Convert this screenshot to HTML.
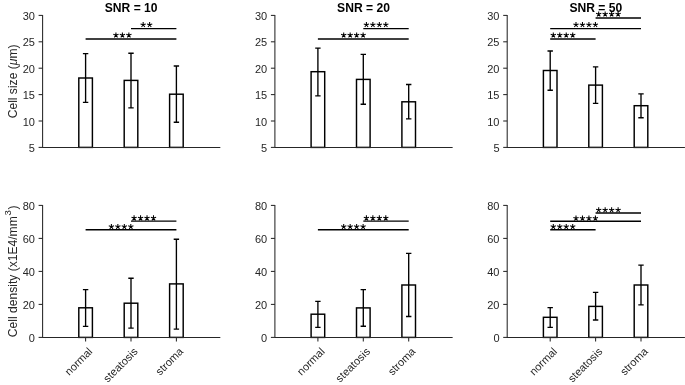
<!DOCTYPE html><html><head><meta charset="utf-8"><style>html,body{margin:0;padding:0;background:#fff}svg{display:block;will-change:transform}text{font-family:"Liberation Sans",sans-serif}</style></head><body>
<svg width="685" height="385" viewBox="0 0 685 385">
<rect width="685" height="385" fill="#fff"/>
<rect x="78.80" y="78.00" width="13.6" height="69.40" fill="#fff" stroke="#000" stroke-width="1.45"/>
<rect x="124.20" y="80.40" width="13.6" height="67.00" fill="#fff" stroke="#000" stroke-width="1.45"/>
<rect x="169.60" y="94.20" width="13.6" height="53.20" fill="#fff" stroke="#000" stroke-width="1.45"/>
<path d="M85.60 53.60V102.40M82.90 53.60h5.4M82.90 102.40h5.4" stroke="#000" stroke-width="1.35" fill="none"/>
<path d="M131.00 53.20V107.80M128.30 53.20h5.4M128.30 107.80h5.4" stroke="#000" stroke-width="1.35" fill="none"/>
<path d="M176.40 66.00V122.20M173.70 66.00h5.4M173.70 122.20h5.4" stroke="#000" stroke-width="1.35" fill="none"/>
<path d="M42.60 15.40V147.40H219.80" stroke="#262626" stroke-width="1.05" fill="none" stroke-linecap="square"/>
<path d="M42.60 15.40h-4" stroke="#262626" stroke-width="1.05"/>
<text x="34.90" y="19.90" font-size="11" fill="#262626" text-anchor="end">30</text>
<path d="M42.60 41.80h-4" stroke="#262626" stroke-width="1.05"/>
<text x="34.90" y="46.30" font-size="11" fill="#262626" text-anchor="end">25</text>
<path d="M42.60 68.20h-4" stroke="#262626" stroke-width="1.05"/>
<text x="34.90" y="72.70" font-size="11" fill="#262626" text-anchor="end">20</text>
<path d="M42.60 94.60h-4" stroke="#262626" stroke-width="1.05"/>
<text x="34.90" y="99.10" font-size="11" fill="#262626" text-anchor="end">15</text>
<path d="M42.60 121.00h-4" stroke="#262626" stroke-width="1.05"/>
<text x="34.90" y="125.50" font-size="11" fill="#262626" text-anchor="end">10</text>
<path d="M42.60 147.40h-4" stroke="#262626" stroke-width="1.05"/>
<text x="34.90" y="151.90" font-size="11" fill="#262626" text-anchor="end">5</text>
<path d="M131.00 28.60H176.40" stroke="#000" stroke-width="1.4"/>
<path d="M143.16 24.80L143.16 22.05M143.16 24.80L145.78 23.95M143.16 24.80L144.78 27.02M143.16 24.80L141.55 27.02M143.16 24.80L140.55 23.95" stroke="#000" stroke-width="1.05" fill="none"/>
<path d="M149.63 24.80L149.63 22.05M149.63 24.80L152.25 23.95M149.63 24.80L151.25 27.02M149.63 24.80L148.02 27.02M149.63 24.80L147.02 23.95" stroke="#000" stroke-width="1.05" fill="none"/>
<path d="M85.60 39.00H176.40" stroke="#000" stroke-width="1.4"/>
<path d="M115.93 35.20L115.93 32.45M115.93 35.20L118.55 34.35M115.93 35.20L117.55 37.42M115.93 35.20L114.31 37.42M115.93 35.20L113.31 34.35" stroke="#000" stroke-width="1.05" fill="none"/>
<path d="M122.40 35.20L122.40 32.45M122.40 35.20L125.02 34.35M122.40 35.20L124.02 37.42M122.40 35.20L120.78 37.42M122.40 35.20L119.78 34.35" stroke="#000" stroke-width="1.05" fill="none"/>
<path d="M128.87 35.20L128.87 32.45M128.87 35.20L131.49 34.35M128.87 35.20L130.49 37.42M128.87 35.20L127.25 37.42M128.87 35.20L126.25 34.35" stroke="#000" stroke-width="1.05" fill="none"/>
<rect x="78.80" y="307.80" width="13.6" height="29.60" fill="#fff" stroke="#000" stroke-width="1.45"/>
<rect x="124.20" y="303.20" width="13.6" height="34.20" fill="#fff" stroke="#000" stroke-width="1.45"/>
<rect x="169.60" y="283.90" width="13.6" height="53.50" fill="#fff" stroke="#000" stroke-width="1.45"/>
<path d="M85.60 289.60V326.30M82.90 289.60h5.4M82.90 326.30h5.4" stroke="#000" stroke-width="1.35" fill="none"/>
<path d="M131.00 278.20V328.10M128.30 278.20h5.4M128.30 328.10h5.4" stroke="#000" stroke-width="1.35" fill="none"/>
<path d="M176.40 239.20V329.10M173.70 239.20h5.4M173.70 329.10h5.4" stroke="#000" stroke-width="1.35" fill="none"/>
<path d="M42.60 205.40V337.40H219.80" stroke="#262626" stroke-width="1.05" fill="none" stroke-linecap="square"/>
<path d="M42.60 205.40h-4" stroke="#262626" stroke-width="1.05"/>
<text x="34.90" y="209.90" font-size="11" fill="#262626" text-anchor="end">80</text>
<path d="M42.60 238.40h-4" stroke="#262626" stroke-width="1.05"/>
<text x="34.90" y="242.90" font-size="11" fill="#262626" text-anchor="end">60</text>
<path d="M42.60 271.40h-4" stroke="#262626" stroke-width="1.05"/>
<text x="34.90" y="275.90" font-size="11" fill="#262626" text-anchor="end">40</text>
<path d="M42.60 304.40h-4" stroke="#262626" stroke-width="1.05"/>
<text x="34.90" y="308.90" font-size="11" fill="#262626" text-anchor="end">20</text>
<path d="M42.60 337.40h-4" stroke="#262626" stroke-width="1.05"/>
<text x="34.90" y="341.90" font-size="11" fill="#262626" text-anchor="end">0</text>
<path d="M85.60 337.40v4" stroke="#262626" stroke-width="1.05"/>
<text transform="translate(93.10 352.20) rotate(-45)" font-size="11" fill="#262626" text-anchor="end">normal</text>
<path d="M131.00 337.40v4" stroke="#262626" stroke-width="1.05"/>
<text transform="translate(138.50 352.20) rotate(-45)" font-size="11" fill="#262626" text-anchor="end">steatosis</text>
<path d="M176.40 337.40v4" stroke="#262626" stroke-width="1.05"/>
<text transform="translate(183.90 352.20) rotate(-45)" font-size="11" fill="#262626" text-anchor="end">stroma</text>
<path d="M131.00 221.10H176.40" stroke="#000" stroke-width="1.4"/>
<path d="M134.09 218.10L134.09 215.35M134.09 218.10L136.71 217.25M134.09 218.10L135.71 220.32M134.09 218.10L132.48 220.32M134.09 218.10L131.48 217.25" stroke="#000" stroke-width="1.05" fill="none"/>
<path d="M140.56 218.10L140.56 215.35M140.56 218.10L143.18 217.25M140.56 218.10L142.18 220.32M140.56 218.10L138.95 220.32M140.56 218.10L137.95 217.25" stroke="#000" stroke-width="1.05" fill="none"/>
<path d="M147.03 218.10L147.03 215.35M147.03 218.10L149.65 217.25M147.03 218.10L148.65 220.32M147.03 218.10L145.42 220.32M147.03 218.10L144.42 217.25" stroke="#000" stroke-width="1.05" fill="none"/>
<path d="M153.50 218.10L153.50 215.35M153.50 218.10L156.12 217.25M153.50 218.10L155.12 220.32M153.50 218.10L151.89 220.32M153.50 218.10L150.89 217.25" stroke="#000" stroke-width="1.05" fill="none"/>
<path d="M85.60 229.70H176.40" stroke="#000" stroke-width="1.4"/>
<path d="M111.39 226.70L111.39 223.95M111.39 226.70L114.01 225.85M111.39 226.70L113.01 228.92M111.39 226.70L109.78 228.92M111.39 226.70L108.78 225.85" stroke="#000" stroke-width="1.05" fill="none"/>
<path d="M117.86 226.70L117.86 223.95M117.86 226.70L120.48 225.85M117.86 226.70L119.48 228.92M117.86 226.70L116.25 228.92M117.86 226.70L115.25 225.85" stroke="#000" stroke-width="1.05" fill="none"/>
<path d="M124.33 226.70L124.33 223.95M124.33 226.70L126.95 225.85M124.33 226.70L125.95 228.92M124.33 226.70L122.72 228.92M124.33 226.70L121.72 225.85" stroke="#000" stroke-width="1.05" fill="none"/>
<path d="M130.81 226.70L130.81 223.95M130.81 226.70L133.42 225.85M130.81 226.70L132.42 228.92M130.81 226.70L129.19 228.92M130.81 226.70L128.19 225.85" stroke="#000" stroke-width="1.05" fill="none"/>
<text x="131.20" y="12.3" font-size="12.1" font-weight="bold" fill="#000" text-anchor="middle">SNR = 10</text>
<rect x="311.10" y="71.70" width="13.6" height="75.70" fill="#fff" stroke="#000" stroke-width="1.45"/>
<rect x="356.50" y="79.40" width="13.6" height="68.00" fill="#fff" stroke="#000" stroke-width="1.45"/>
<rect x="401.90" y="101.80" width="13.6" height="45.60" fill="#fff" stroke="#000" stroke-width="1.45"/>
<path d="M317.90 48.10V95.90M315.20 48.10h5.4M315.20 95.90h5.4" stroke="#000" stroke-width="1.35" fill="none"/>
<path d="M363.30 54.30V104.20M360.60 54.30h5.4M360.60 104.20h5.4" stroke="#000" stroke-width="1.35" fill="none"/>
<path d="M408.70 84.50V118.90M406.00 84.50h5.4M406.00 118.90h5.4" stroke="#000" stroke-width="1.35" fill="none"/>
<path d="M274.90 15.40V147.40H452.10" stroke="#262626" stroke-width="1.05" fill="none" stroke-linecap="square"/>
<path d="M274.90 15.40h-4" stroke="#262626" stroke-width="1.05"/>
<text x="267.20" y="19.90" font-size="11" fill="#262626" text-anchor="end">30</text>
<path d="M274.90 41.80h-4" stroke="#262626" stroke-width="1.05"/>
<text x="267.20" y="46.30" font-size="11" fill="#262626" text-anchor="end">25</text>
<path d="M274.90 68.20h-4" stroke="#262626" stroke-width="1.05"/>
<text x="267.20" y="72.70" font-size="11" fill="#262626" text-anchor="end">20</text>
<path d="M274.90 94.60h-4" stroke="#262626" stroke-width="1.05"/>
<text x="267.20" y="99.10" font-size="11" fill="#262626" text-anchor="end">15</text>
<path d="M274.90 121.00h-4" stroke="#262626" stroke-width="1.05"/>
<text x="267.20" y="125.50" font-size="11" fill="#262626" text-anchor="end">10</text>
<path d="M274.90 147.40h-4" stroke="#262626" stroke-width="1.05"/>
<text x="267.20" y="151.90" font-size="11" fill="#262626" text-anchor="end">5</text>
<path d="M363.30 28.60H408.70" stroke="#000" stroke-width="1.4"/>
<path d="M366.40 24.80L366.40 22.05M366.40 24.80L369.01 23.95M366.40 24.80L368.01 27.02M366.40 24.80L364.78 27.02M366.40 24.80L363.78 23.95" stroke="#000" stroke-width="1.05" fill="none"/>
<path d="M372.87 24.80L372.87 22.05M372.87 24.80L375.48 23.95M372.87 24.80L374.48 27.02M372.87 24.80L371.25 27.02M372.87 24.80L370.25 23.95" stroke="#000" stroke-width="1.05" fill="none"/>
<path d="M379.34 24.80L379.34 22.05M379.34 24.80L381.95 23.95M379.34 24.80L380.95 27.02M379.34 24.80L377.72 27.02M379.34 24.80L376.72 23.95" stroke="#000" stroke-width="1.05" fill="none"/>
<path d="M385.81 24.80L385.81 22.05M385.81 24.80L388.42 23.95M385.81 24.80L387.42 27.02M385.81 24.80L384.19 27.02M385.81 24.80L383.19 23.95" stroke="#000" stroke-width="1.05" fill="none"/>
<path d="M317.90 39.00H408.70" stroke="#000" stroke-width="1.4"/>
<path d="M343.70 35.20L343.70 32.45M343.70 35.20L346.31 34.35M343.70 35.20L345.31 37.42M343.70 35.20L342.08 37.42M343.70 35.20L341.08 34.35" stroke="#000" stroke-width="1.05" fill="none"/>
<path d="M350.17 35.20L350.17 32.45M350.17 35.20L352.78 34.35M350.17 35.20L351.78 37.42M350.17 35.20L348.55 37.42M350.17 35.20L347.55 34.35" stroke="#000" stroke-width="1.05" fill="none"/>
<path d="M356.64 35.20L356.64 32.45M356.64 35.20L359.25 34.35M356.64 35.20L358.25 37.42M356.64 35.20L355.02 37.42M356.64 35.20L354.02 34.35" stroke="#000" stroke-width="1.05" fill="none"/>
<path d="M363.11 35.20L363.11 32.45M363.11 35.20L365.72 34.35M363.11 35.20L364.72 37.42M363.11 35.20L361.49 37.42M363.11 35.20L360.49 34.35" stroke="#000" stroke-width="1.05" fill="none"/>
<rect x="311.10" y="314.20" width="13.6" height="23.20" fill="#fff" stroke="#000" stroke-width="1.45"/>
<rect x="356.50" y="307.90" width="13.6" height="29.50" fill="#fff" stroke="#000" stroke-width="1.45"/>
<rect x="401.90" y="285.00" width="13.6" height="52.40" fill="#fff" stroke="#000" stroke-width="1.45"/>
<path d="M317.90 301.30V327.40M315.20 301.30h5.4M315.20 327.40h5.4" stroke="#000" stroke-width="1.35" fill="none"/>
<path d="M363.30 289.60V326.20M360.60 289.60h5.4M360.60 326.20h5.4" stroke="#000" stroke-width="1.35" fill="none"/>
<path d="M408.70 253.40V316.50M406.00 253.40h5.4M406.00 316.50h5.4" stroke="#000" stroke-width="1.35" fill="none"/>
<path d="M274.90 205.40V337.40H452.10" stroke="#262626" stroke-width="1.05" fill="none" stroke-linecap="square"/>
<path d="M274.90 205.40h-4" stroke="#262626" stroke-width="1.05"/>
<text x="267.20" y="209.90" font-size="11" fill="#262626" text-anchor="end">80</text>
<path d="M274.90 238.40h-4" stroke="#262626" stroke-width="1.05"/>
<text x="267.20" y="242.90" font-size="11" fill="#262626" text-anchor="end">60</text>
<path d="M274.90 271.40h-4" stroke="#262626" stroke-width="1.05"/>
<text x="267.20" y="275.90" font-size="11" fill="#262626" text-anchor="end">40</text>
<path d="M274.90 304.40h-4" stroke="#262626" stroke-width="1.05"/>
<text x="267.20" y="308.90" font-size="11" fill="#262626" text-anchor="end">20</text>
<path d="M274.90 337.40h-4" stroke="#262626" stroke-width="1.05"/>
<text x="267.20" y="341.90" font-size="11" fill="#262626" text-anchor="end">0</text>
<path d="M317.90 337.40v4" stroke="#262626" stroke-width="1.05"/>
<text transform="translate(325.40 352.20) rotate(-45)" font-size="11" fill="#262626" text-anchor="end">normal</text>
<path d="M363.30 337.40v4" stroke="#262626" stroke-width="1.05"/>
<text transform="translate(370.80 352.20) rotate(-45)" font-size="11" fill="#262626" text-anchor="end">steatosis</text>
<path d="M408.70 337.40v4" stroke="#262626" stroke-width="1.05"/>
<text transform="translate(416.20 352.20) rotate(-45)" font-size="11" fill="#262626" text-anchor="end">stroma</text>
<path d="M363.30 221.10H408.70" stroke="#000" stroke-width="1.4"/>
<path d="M366.40 218.10L366.40 215.35M366.40 218.10L369.01 217.25M366.40 218.10L368.01 220.32M366.40 218.10L364.78 220.32M366.40 218.10L363.78 217.25" stroke="#000" stroke-width="1.05" fill="none"/>
<path d="M372.87 218.10L372.87 215.35M372.87 218.10L375.48 217.25M372.87 218.10L374.48 220.32M372.87 218.10L371.25 220.32M372.87 218.10L370.25 217.25" stroke="#000" stroke-width="1.05" fill="none"/>
<path d="M379.34 218.10L379.34 215.35M379.34 218.10L381.95 217.25M379.34 218.10L380.95 220.32M379.34 218.10L377.72 220.32M379.34 218.10L376.72 217.25" stroke="#000" stroke-width="1.05" fill="none"/>
<path d="M385.81 218.10L385.81 215.35M385.81 218.10L388.42 217.25M385.81 218.10L387.42 220.32M385.81 218.10L384.19 220.32M385.81 218.10L383.19 217.25" stroke="#000" stroke-width="1.05" fill="none"/>
<path d="M317.90 229.70H408.70" stroke="#000" stroke-width="1.4"/>
<path d="M343.70 226.70L343.70 223.95M343.70 226.70L346.31 225.85M343.70 226.70L345.31 228.92M343.70 226.70L342.08 228.92M343.70 226.70L341.08 225.85" stroke="#000" stroke-width="1.05" fill="none"/>
<path d="M350.17 226.70L350.17 223.95M350.17 226.70L352.78 225.85M350.17 226.70L351.78 228.92M350.17 226.70L348.55 228.92M350.17 226.70L347.55 225.85" stroke="#000" stroke-width="1.05" fill="none"/>
<path d="M356.64 226.70L356.64 223.95M356.64 226.70L359.25 225.85M356.64 226.70L358.25 228.92M356.64 226.70L355.02 228.92M356.64 226.70L354.02 225.85" stroke="#000" stroke-width="1.05" fill="none"/>
<path d="M363.11 226.70L363.11 223.95M363.11 226.70L365.72 225.85M363.11 226.70L364.72 228.92M363.11 226.70L361.49 228.92M363.11 226.70L360.49 225.85" stroke="#000" stroke-width="1.05" fill="none"/>
<text x="363.50" y="12.3" font-size="12.1" font-weight="bold" fill="#000" text-anchor="middle">SNR = 20</text>
<rect x="543.40" y="70.50" width="13.6" height="76.90" fill="#fff" stroke="#000" stroke-width="1.45"/>
<rect x="588.80" y="85.10" width="13.6" height="62.30" fill="#fff" stroke="#000" stroke-width="1.45"/>
<rect x="634.20" y="105.70" width="13.6" height="41.70" fill="#fff" stroke="#000" stroke-width="1.45"/>
<path d="M550.20 51.00V90.20M547.50 51.00h5.4M547.50 90.20h5.4" stroke="#000" stroke-width="1.35" fill="none"/>
<path d="M595.60 66.90V103.30M592.90 66.90h5.4M592.90 103.30h5.4" stroke="#000" stroke-width="1.35" fill="none"/>
<path d="M641.00 93.80V117.70M638.30 93.80h5.4M638.30 117.70h5.4" stroke="#000" stroke-width="1.35" fill="none"/>
<path d="M507.20 15.40V147.40H684.40" stroke="#262626" stroke-width="1.05" fill="none" stroke-linecap="square"/>
<path d="M507.20 15.40h-4" stroke="#262626" stroke-width="1.05"/>
<text x="499.50" y="19.90" font-size="11" fill="#262626" text-anchor="end">30</text>
<path d="M507.20 41.80h-4" stroke="#262626" stroke-width="1.05"/>
<text x="499.50" y="46.30" font-size="11" fill="#262626" text-anchor="end">25</text>
<path d="M507.20 68.20h-4" stroke="#262626" stroke-width="1.05"/>
<text x="499.50" y="72.70" font-size="11" fill="#262626" text-anchor="end">20</text>
<path d="M507.20 94.60h-4" stroke="#262626" stroke-width="1.05"/>
<text x="499.50" y="99.10" font-size="11" fill="#262626" text-anchor="end">15</text>
<path d="M507.20 121.00h-4" stroke="#262626" stroke-width="1.05"/>
<text x="499.50" y="125.50" font-size="11" fill="#262626" text-anchor="end">10</text>
<path d="M507.20 147.40h-4" stroke="#262626" stroke-width="1.05"/>
<text x="499.50" y="151.90" font-size="11" fill="#262626" text-anchor="end">5</text>
<path d="M550.20 39.00H595.60" stroke="#000" stroke-width="1.4"/>
<path d="M553.30 35.20L553.30 32.45M553.30 35.20L555.91 34.35M553.30 35.20L554.91 37.42M553.30 35.20L551.68 37.42M553.30 35.20L550.68 34.35" stroke="#000" stroke-width="1.05" fill="none"/>
<path d="M559.77 35.20L559.77 32.45M559.77 35.20L562.38 34.35M559.77 35.20L561.38 37.42M559.77 35.20L558.15 37.42M559.77 35.20L557.15 34.35" stroke="#000" stroke-width="1.05" fill="none"/>
<path d="M566.24 35.20L566.24 32.45M566.24 35.20L568.85 34.35M566.24 35.20L567.85 37.42M566.24 35.20L564.62 37.42M566.24 35.20L563.62 34.35" stroke="#000" stroke-width="1.05" fill="none"/>
<path d="M572.71 35.20L572.71 32.45M572.71 35.20L575.32 34.35M572.71 35.20L574.32 37.42M572.71 35.20L571.09 37.42M572.71 35.20L570.09 34.35" stroke="#000" stroke-width="1.05" fill="none"/>
<path d="M550.20 28.60H641.00" stroke="#000" stroke-width="1.4"/>
<path d="M576.00 24.80L576.00 22.05M576.00 24.80L578.61 23.95M576.00 24.80L577.61 27.02M576.00 24.80L574.38 27.02M576.00 24.80L573.38 23.95" stroke="#000" stroke-width="1.05" fill="none"/>
<path d="M582.47 24.80L582.47 22.05M582.47 24.80L585.08 23.95M582.47 24.80L584.08 27.02M582.47 24.80L580.85 27.02M582.47 24.80L579.85 23.95" stroke="#000" stroke-width="1.05" fill="none"/>
<path d="M588.94 24.80L588.94 22.05M588.94 24.80L591.55 23.95M588.94 24.80L590.55 27.02M588.94 24.80L587.32 27.02M588.94 24.80L586.32 23.95" stroke="#000" stroke-width="1.05" fill="none"/>
<path d="M595.41 24.80L595.41 22.05M595.41 24.80L598.02 23.95M595.41 24.80L597.02 27.02M595.41 24.80L593.79 27.02M595.41 24.80L592.79 23.95" stroke="#000" stroke-width="1.05" fill="none"/>
<path d="M595.60 18.00H641.00" stroke="#000" stroke-width="1.4"/>
<path d="M598.69 14.20L598.69 11.45M598.69 14.20L601.31 13.35M598.69 14.20L600.31 16.42M598.69 14.20L597.08 16.42M598.69 14.20L596.08 13.35" stroke="#000" stroke-width="1.05" fill="none"/>
<path d="M605.16 14.20L605.16 11.45M605.16 14.20L607.78 13.35M605.16 14.20L606.78 16.42M605.16 14.20L603.55 16.42M605.16 14.20L602.55 13.35" stroke="#000" stroke-width="1.05" fill="none"/>
<path d="M611.63 14.20L611.63 11.45M611.63 14.20L614.25 13.35M611.63 14.20L613.25 16.42M611.63 14.20L610.02 16.42M611.63 14.20L609.02 13.35" stroke="#000" stroke-width="1.05" fill="none"/>
<path d="M618.11 14.20L618.11 11.45M618.11 14.20L620.72 13.35M618.11 14.20L619.72 16.42M618.11 14.20L616.49 16.42M618.11 14.20L615.49 13.35" stroke="#000" stroke-width="1.05" fill="none"/>
<rect x="543.40" y="317.30" width="13.6" height="20.10" fill="#fff" stroke="#000" stroke-width="1.45"/>
<rect x="588.80" y="306.40" width="13.6" height="31.00" fill="#fff" stroke="#000" stroke-width="1.45"/>
<rect x="634.20" y="285.00" width="13.6" height="52.40" fill="#fff" stroke="#000" stroke-width="1.45"/>
<path d="M550.20 307.60V327.40M547.50 307.60h5.4M547.50 327.40h5.4" stroke="#000" stroke-width="1.35" fill="none"/>
<path d="M595.60 292.40V320.00M592.90 292.40h5.4M592.90 320.00h5.4" stroke="#000" stroke-width="1.35" fill="none"/>
<path d="M641.00 265.10V304.90M638.30 265.10h5.4M638.30 304.90h5.4" stroke="#000" stroke-width="1.35" fill="none"/>
<path d="M507.20 205.40V337.40H684.40" stroke="#262626" stroke-width="1.05" fill="none" stroke-linecap="square"/>
<path d="M507.20 205.40h-4" stroke="#262626" stroke-width="1.05"/>
<text x="499.50" y="209.90" font-size="11" fill="#262626" text-anchor="end">80</text>
<path d="M507.20 238.40h-4" stroke="#262626" stroke-width="1.05"/>
<text x="499.50" y="242.90" font-size="11" fill="#262626" text-anchor="end">60</text>
<path d="M507.20 271.40h-4" stroke="#262626" stroke-width="1.05"/>
<text x="499.50" y="275.90" font-size="11" fill="#262626" text-anchor="end">40</text>
<path d="M507.20 304.40h-4" stroke="#262626" stroke-width="1.05"/>
<text x="499.50" y="308.90" font-size="11" fill="#262626" text-anchor="end">20</text>
<path d="M507.20 337.40h-4" stroke="#262626" stroke-width="1.05"/>
<text x="499.50" y="341.90" font-size="11" fill="#262626" text-anchor="end">0</text>
<path d="M550.20 337.40v4" stroke="#262626" stroke-width="1.05"/>
<text transform="translate(557.70 352.20) rotate(-45)" font-size="11" fill="#262626" text-anchor="end">normal</text>
<path d="M595.60 337.40v4" stroke="#262626" stroke-width="1.05"/>
<text transform="translate(603.10 352.20) rotate(-45)" font-size="11" fill="#262626" text-anchor="end">steatosis</text>
<path d="M641.00 337.40v4" stroke="#262626" stroke-width="1.05"/>
<text transform="translate(648.50 352.20) rotate(-45)" font-size="11" fill="#262626" text-anchor="end">stroma</text>
<path d="M550.20 229.70H595.60" stroke="#000" stroke-width="1.4"/>
<path d="M553.30 226.70L553.30 223.95M553.30 226.70L555.91 225.85M553.30 226.70L554.91 228.92M553.30 226.70L551.68 228.92M553.30 226.70L550.68 225.85" stroke="#000" stroke-width="1.05" fill="none"/>
<path d="M559.77 226.70L559.77 223.95M559.77 226.70L562.38 225.85M559.77 226.70L561.38 228.92M559.77 226.70L558.15 228.92M559.77 226.70L557.15 225.85" stroke="#000" stroke-width="1.05" fill="none"/>
<path d="M566.24 226.70L566.24 223.95M566.24 226.70L568.85 225.85M566.24 226.70L567.85 228.92M566.24 226.70L564.62 228.92M566.24 226.70L563.62 225.85" stroke="#000" stroke-width="1.05" fill="none"/>
<path d="M572.71 226.70L572.71 223.95M572.71 226.70L575.32 225.85M572.71 226.70L574.32 228.92M572.71 226.70L571.09 228.92M572.71 226.70L570.09 225.85" stroke="#000" stroke-width="1.05" fill="none"/>
<path d="M550.20 221.30H641.00" stroke="#000" stroke-width="1.4"/>
<path d="M576.00 218.30L576.00 215.55M576.00 218.30L578.61 217.45M576.00 218.30L577.61 220.52M576.00 218.30L574.38 220.52M576.00 218.30L573.38 217.45" stroke="#000" stroke-width="1.05" fill="none"/>
<path d="M582.47 218.30L582.47 215.55M582.47 218.30L585.08 217.45M582.47 218.30L584.08 220.52M582.47 218.30L580.85 220.52M582.47 218.30L579.85 217.45" stroke="#000" stroke-width="1.05" fill="none"/>
<path d="M588.94 218.30L588.94 215.55M588.94 218.30L591.55 217.45M588.94 218.30L590.55 220.52M588.94 218.30L587.32 220.52M588.94 218.30L586.32 217.45" stroke="#000" stroke-width="1.05" fill="none"/>
<path d="M595.41 218.30L595.41 215.55M595.41 218.30L598.02 217.45M595.41 218.30L597.02 220.52M595.41 218.30L593.79 220.52M595.41 218.30L592.79 217.45" stroke="#000" stroke-width="1.05" fill="none"/>
<path d="M595.60 213.00H641.00" stroke="#000" stroke-width="1.4"/>
<path d="M598.69 210.00L598.69 207.25M598.69 210.00L601.31 209.15M598.69 210.00L600.31 212.22M598.69 210.00L597.08 212.22M598.69 210.00L596.08 209.15" stroke="#000" stroke-width="1.05" fill="none"/>
<path d="M605.16 210.00L605.16 207.25M605.16 210.00L607.78 209.15M605.16 210.00L606.78 212.22M605.16 210.00L603.55 212.22M605.16 210.00L602.55 209.15" stroke="#000" stroke-width="1.05" fill="none"/>
<path d="M611.63 210.00L611.63 207.25M611.63 210.00L614.25 209.15M611.63 210.00L613.25 212.22M611.63 210.00L610.02 212.22M611.63 210.00L609.02 209.15" stroke="#000" stroke-width="1.05" fill="none"/>
<path d="M618.11 210.00L618.11 207.25M618.11 210.00L620.72 209.15M618.11 210.00L619.72 212.22M618.11 210.00L616.49 212.22M618.11 210.00L615.49 209.15" stroke="#000" stroke-width="1.05" fill="none"/>
<text x="595.80" y="12.3" font-size="12.1" font-weight="bold" fill="#000" text-anchor="middle">SNR = 50</text>
<text transform="translate(17.4 81.4) rotate(-90)" font-size="12.1" fill="#262626" text-anchor="middle">Cell size (<tspan font-style="italic">μ</tspan>m)</text>
<text transform="translate(17.4 271.4) rotate(-90)" font-size="12.1" fill="#262626" text-anchor="middle">Cell density (x1E4/mm<tspan font-size="9.6" dy="-6.3" dx="0.7">3</tspan><tspan dy="6.3" dx="0.6">)</tspan></text>
</svg></body></html>
